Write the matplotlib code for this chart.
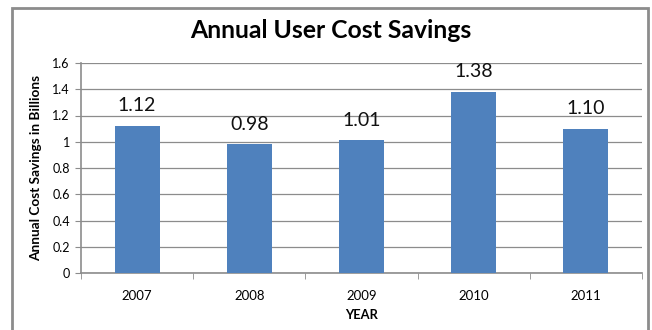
import matplotlib.pyplot as plt
from matplotlib.patches import Rectangle
import numpy as np

years = ['2007', '2008', '2009', '2010', '2011']
savings = [1.12, 0.98, 1.01, 1.38, 1.10]
labels = ['1.12', '0.98', '1.01', '1.38', '1.10']
yticks = [0, 0.2, 0.4, 0.6, 0.8, 1, 1.2, 1.4, 1.6]
ytick_labels = ['0', '0.2', '0.4', '0.6', '0.8', '1', '1.2', '1.4', '1.6']

plt.rcParams['font.family'] = ['Lato', 'DejaVu Sans']

fig = plt.figure(figsize=(6.52, 3.30), dpi=100)

# outer chart frame
fig.patches.append(Rectangle((12 / 652, -0.02), 636 / 652, 1 - 8 / 330 + 0.02,
                             transform=fig.transFigure, fill=False,
                             edgecolor='#8c8c8c', linewidth=2))

ax = fig.add_axes([81 / 652, 1 - 273 / 330, 561 / 652, 210 / 330])
x = np.arange(len(years))
ax.bar(x, savings, width=0.4, color='#4f81bd', zorder=3)
for xi, v, t in zip(x, savings, labels):
    ax.text(xi, v + 0.09, t, ha='center', va='bottom', fontsize=14, color='#111111')

ax.set_xlim(-0.5, len(years) - 0.5)
ax.set_ylim(0, 1.6)
ax.set_yticks(yticks)
ax.set_yticklabels(ytick_labels, fontsize=9)
ax.yaxis.grid(True, color='#8c8c8c', linewidth=0.9, zorder=0)

ax.set_xticks(x)
ax.set_xticklabels(years, fontsize=9.5)
ax.tick_params(axis='x', which='major', length=0, pad=12)
ax.set_xticks(np.arange(-0.5, len(years)), minor=True)
ax.tick_params(axis='x', which='minor', length=4, color='#8c8c8c')
ax.tick_params(axis='y', length=4, color='#8c8c8c', pad=4)

for side in ['top', 'right']:
    ax.spines[side].set_visible(False)
for side in ['left', 'bottom']:
    ax.spines[side].set_color('#8c8c8c')
    ax.spines[side].set_linewidth(1.2)

ax.set_xlabel('YEAR', fontsize=9.3, fontweight='bold', labelpad=5)
ax.set_ylabel('Annual Cost Savings in Billions', fontsize=9.8, fontweight='bold', labelpad=7)
fig.text(331 / 652, 1 - 30 / 330, 'Annual User Cost Savings', ha='center', va='center',
         fontsize=17.8, fontweight='bold')

fig.savefig('out.png', dpi=100)
